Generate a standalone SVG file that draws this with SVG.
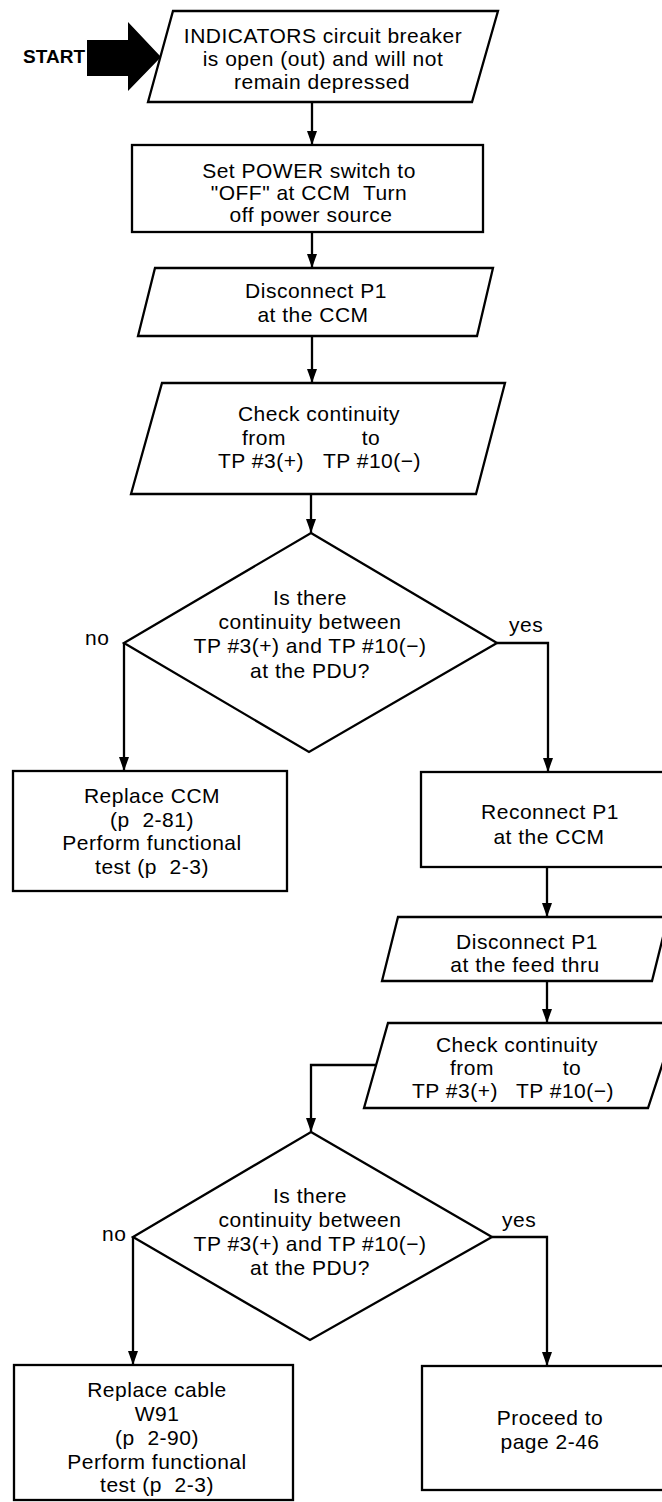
<svg xmlns="http://www.w3.org/2000/svg" width="662" height="1502" viewBox="0 0 662 1502">
  <defs>
    <style>
      .shape { fill: #fff; stroke: #000; stroke-width: 2.3; stroke-linejoin: miter; }
      .conn { fill: none; stroke: #000; stroke-width: 2.3; }
      text { font-family: 'Liberation Sans', Arial, Helvetica, sans-serif; font-size: 21px; letter-spacing: 0.5px; fill: #000; text-anchor: middle; white-space: pre; }
      .lbl { text-anchor: start; }
      .start { font-weight: bold; text-anchor: end; font-size: 19px; letter-spacing: 0; }
    </style>
    <marker id="ah" viewBox="0 0 14 10" refX="14" refY="5" markerWidth="14" markerHeight="10" markerUnits="userSpaceOnUse" orient="auto">
      <path d="M0,0 L14,5 L0,10 z" fill="#000"/>
    </marker>
  </defs>

  <rect width="662" height="1502" fill="#fff"/>

  <!-- entry point -->
  <g id="start">
    <text class="start" x="85" y="63">START</text>
    <polygon points="87,40 128,40 128,22 161,57 128,91 128,76 87,76" fill="#000"/>
  </g>

  <g id="n1">
    <polygon class="shape" points="173,11 498,11 472,102 148,102"/>
    <text x="323" y="43">INDICATORS circuit breaker</text>
    <text x="323" y="66">is open (out) and will not</text>
    <text x="322" y="89">remain depressed</text>
  </g>

  <g id="n2">
    <rect class="shape" x="132" y="145" width="351" height="87"/>
    <text x="309" y="178">Set POWER switch to</text>
    <text x="309" y="200" xml:space="preserve">"OFF" at CCM  Turn</text>
    <text x="311" y="222">off power source</text>
  </g>

  <g id="n3">
    <polygon class="shape" points="155,268 493,268 477,336 138,336"/>
    <text x="316" y="298">Disconnect P1</text>
    <text x="313" y="322">at the CCM</text>
  </g>

  <g id="n4">
    <polygon class="shape" points="162,383 505,383 476,494 131,494"/>
    <text x="319" y="421">Check continuity</text>
    <text x="264" y="445">from</text>
    <text x="371" y="445">to</text>
    <text x="261" y="468">TP #3(+)</text>
    <text x="372" y="468">TP #10(−)</text>
  </g>

  <g id="d1">
    <polygon class="shape" points="311,533 497,643 309,752 124,643"/>
    <text x="310" y="605">Is there</text>
    <text x="310" y="629">continuity between</text>
    <text x="310" y="653">TP #3(+) and TP #10(−)</text>
    <text x="310" y="678">at the PDU?</text>
  </g>

  <g id="n5">
    <rect class="shape" x="13" y="771" width="274" height="120"/>
    <text x="152" y="803">Replace CCM</text>
    <text x="152" y="827" xml:space="preserve">(p  2-81)</text>
    <text x="152" y="850">Perform functional</text>
    <text x="152" y="874" xml:space="preserve">test (p  2-3)</text>
  </g>

  <g id="n6">
    <rect class="shape" x="421" y="772" width="260" height="95"/>
    <text x="550" y="819">Reconnect P1</text>
    <text x="549" y="844">at the CCM</text>
  </g>

  <g id="n7">
    <polygon class="shape" points="398,917 668,917 652,981 382,981"/>
    <text x="527" y="949">Disconnect P1</text>
    <text x="525" y="972">at the feed thru</text>
  </g>

  <g id="n8">
    <polygon class="shape" points="388,1023 676,1023 648,1108 364,1108"/>
    <text x="517" y="1052">Check continuity</text>
    <text x="472" y="1075">from</text>
    <text x="572" y="1075">to</text>
    <text x="455" y="1098">TP #3(+)</text>
    <text x="565" y="1098">TP #10(−)</text>
  </g>

  <g id="d2">
    <polygon class="shape" points="311,1132 492,1237 310,1340 133,1237"/>
    <text x="310" y="1203">Is there</text>
    <text x="310" y="1227">continuity between</text>
    <text x="310" y="1251">TP #3(+) and TP #10(−)</text>
    <text x="310" y="1275">at the PDU?</text>
  </g>

  <g id="n9">
    <rect class="shape" x="14" y="1365" width="279" height="135"/>
    <text x="157" y="1397">Replace cable</text>
    <text x="157" y="1421">W91</text>
    <text x="157" y="1445" xml:space="preserve">(p  2-90)</text>
    <text x="157" y="1469">Perform functional</text>
    <text x="157" y="1492" xml:space="preserve">test (p  2-3)</text>
  </g>

  <g id="n10">
    <rect class="shape" x="422" y="1366" width="260" height="124"/>
    <text x="550" y="1425">Proceed to</text>
    <text x="550" y="1449">page 2-46</text>
  </g>

  <!-- flow lines -->
  <g id="connectors">
    <path class="conn" d="M312,102 V145" marker-end="url(#ah)"/>
    <path class="conn" d="M312,232 V268" marker-end="url(#ah)"/>
    <path class="conn" d="M312,336 V383" marker-end="url(#ah)"/>
    <path class="conn" d="M311,494 V533" marker-end="url(#ah)"/>
    <path class="conn" d="M124,643 V771" marker-end="url(#ah)"/>
    <path class="conn" d="M497,643 H548 V772" marker-end="url(#ah)"/>
    <path class="conn" d="M547,867 V917" marker-end="url(#ah)"/>
    <path class="conn" d="M547,981 V1023" marker-end="url(#ah)"/>
    <path class="conn" d="M376,1065 H311 V1132" marker-end="url(#ah)"/>
    <path class="conn" d="M133,1237 V1365" marker-end="url(#ah)"/>
    <path class="conn" d="M492,1237 H547 V1366" marker-end="url(#ah)"/>
    <text class="lbl" x="85" y="645">no</text>
    <text class="lbl" x="509" y="632">yes</text>
    <text class="lbl" x="102" y="1241">no</text>
    <text class="lbl" x="502" y="1227">yes</text>
  </g>
</svg>
